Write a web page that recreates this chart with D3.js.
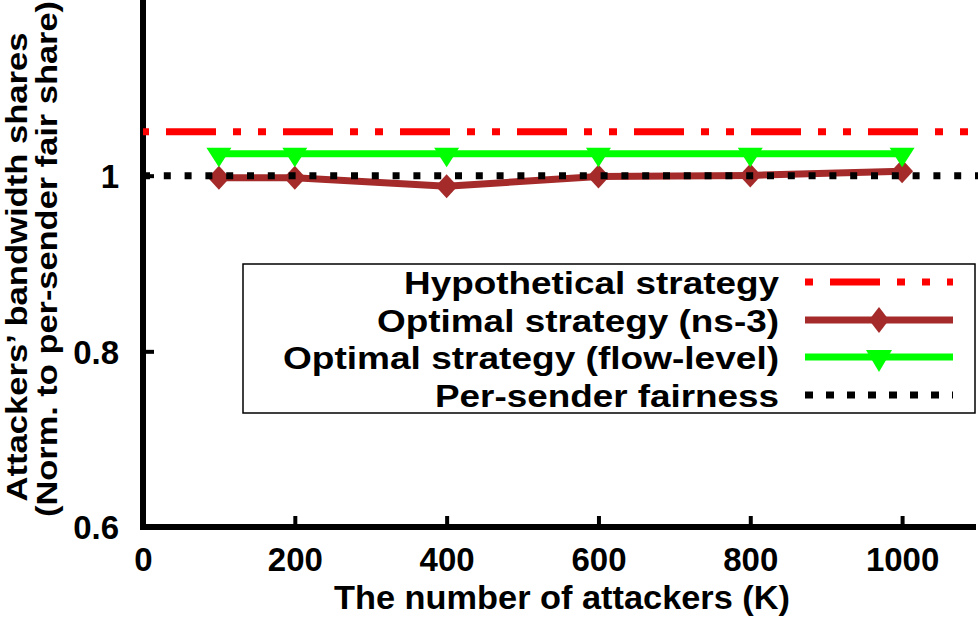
<!DOCTYPE html>
<html>
<head>
<meta charset="utf-8">
<script src="https://cdn.jsdelivr.net/npm/d3@7"></script>
<style>
  body { margin: 0; background: #fff; }
  text { font-family: "Liberation Sans", Arial, sans-serif; font-weight: bold; }
</style>
</head>
<body>
<svg id="chart" width="978" height="617"></svg>
<script>
// data
var attackers = [100, 200, 400, 600, 800, 1000];
var ns3Share = [0.9975, 0.9975, 0.988, 0.999, 1.0003, 1.005];
var flowShare = [1.025, 1.025, 1.025, 1.025, 1.025, 1.025];
var hypotheticalShare = 1.05;
var fairShare = 1.0;
var xTicks = [0, 200, 400, 600, 800, 1000];
var yTicks = [0.6, 0.8, 1];
var yTickLabels = ["0.6", "0.8", "1"];
var legendNames = ["Hypothetical strategy", "Optimal strategy (ns-3)", "Optimal strategy (flow-level)", "Per-sender fairness"];

var svg = d3.select("#chart");

var x = d3.scaleLinear().domain([0, 1100]).range([143, 978]);
var y = d3.scaleLinear().domain([0.6, 1.2]).range([527, 0]);

// axes (gnuplot style, ticks pointing inside)
var xAxis = d3.axisBottom(x).tickValues(xTicks).tickSizeInner(-11).tickSizeOuter(0)
              .tickPadding(21).tickFormat(d3.format("d"));
var yAxis = d3.axisLeft(y).tickValues(yTicks).tickSizeInner(-11).tickSizeOuter(0).tickPadding(24)
              .tickFormat(function(d, i) { return yTickLabels[i]; });

var gx = svg.append("g").attr("transform", "translate(0,527)").call(xAxis);
var gy = svg.append("g").attr("transform", "translate(143,0)").call(yAxis);

[gx, gy].forEach(function(g) {
  g.select(".domain").attr("stroke", "#000").attr("stroke-width", 6);
  g.selectAll(".tick line").attr("stroke", "#000").attr("stroke-width", 4);
  g.selectAll(".tick text").attr("font-size", 33).attr("fill", "#000");
});
gy.select(".domain").attr("d", "M0,530V0");
gx.select(".domain").attr("d", "M140,0H976");
gy.selectAll(".tick text").attr("dy", "0.36em");
gx.selectAll(".tick text").attr("dy", "0.71em");

// axis titles
svg.append("text").attr("x", 562).attr("y", 609).attr("text-anchor", "middle")
   .attr("font-size", 34).attr("textLength", 456).attr("lengthAdjust", "spacingAndGlyphs")
   .text("The number of attackers (K)");
svg.append("text").attr("transform", "translate(27,267) rotate(-90)").attr("text-anchor", "middle")
   .attr("font-size", 30).attr("textLength", 469).attr("lengthAdjust", "spacingAndGlyphs")
   .text("Attackers\u2019 bandwidth shares");
svg.append("text").attr("transform", "translate(57,259) rotate(-90)").attr("text-anchor", "middle")
   .attr("font-size", 30).attr("textLength", 516).attr("lengthAdjust", "spacingAndGlyphs")
   .text("(Norm. to per-sender fair share)");

var line = d3.line().x(function(d) { return x(d[0]); }).y(function(d) { return y(d[1]); });

// hypothetical strategy
svg.append("path").datum([[0, hypotheticalShare], [1100, hypotheticalShare]])
   .attr("d", line).attr("fill", "none").attr("stroke", "#ff0000").attr("stroke-width", 7)
   .attr("stroke-dasharray", "50,17,8,17,8,17").attr("stroke-dashoffset", 94);

// optimal strategy ns-3
var ns3 = attackers.map(function(a, i) { return [a, ns3Share[i]]; });
svg.append("path").datum(ns3).attr("d", line).attr("fill", "none")
   .attr("stroke", "#a52a2a").attr("stroke-width", 7);
var diamond = "M0,-12L11,0L0,12L-11,0Z";
svg.selectAll(".dia").data(ns3).enter().append("path")
   .attr("d", diamond).attr("fill", "#a52a2a")
   .attr("transform", function(d) { return "translate(" + x(d[0]) + "," + y(d[1]) + ")"; });

// optimal strategy flow-level
var flow = attackers.map(function(a, i) { return [a, flowShare[i]]; });
svg.append("path").datum(flow).attr("d", line).attr("fill", "none")
   .attr("stroke", "#00ff00").attr("stroke-width", 7);
var tri = "M-12.5,-6L12.5,-6L0,13.5Z";
svg.selectAll(".tri").data(flow).enter().append("path")
   .attr("d", tri).attr("fill", "#00ff00")
   .attr("transform", function(d) { return "translate(" + x(d[0]) + "," + y(d[1]) + ")"; });

// per-sender fairness
svg.append("path").datum([[0, fairShare], [1100, fairShare]])
   .attr("d", line).attr("fill", "none").attr("stroke", "#000").attr("stroke-width", 7)
   .attr("stroke-dasharray", "7,13.8").attr("stroke-dashoffset", 0);

// legend
var lg = svg.append("g");
lg.append("rect").attr("x", 243).attr("y", 264).attr("width", 732).attr("height", 149)
  .attr("fill", "#fff").attr("stroke", "#000").attr("stroke-width", 1.5);
var rowY = [282, 320, 357, 395];
var legendWidths = [375, 402, 496, 344];
legendNames.forEach(function(n, i) {
  lg.append("text").attr("x", 779).attr("y", rowY[i] + 12)
    .attr("text-anchor", "end").attr("font-size", 32)
    .attr("textLength", legendWidths[i]).attr("lengthAdjust", "spacingAndGlyphs").text(n);
});
lg.append("line").attr("x1", 805).attr("x2", 953).attr("y1", rowY[0]).attr("y2", rowY[0])
  .attr("stroke", "#ff0000").attr("stroke-width", 7)
  .attr("stroke-dasharray", "50,17,8,17,8,17").attr("stroke-dashoffset", 92);
lg.append("line").attr("x1", 805).attr("x2", 953).attr("y1", rowY[1]).attr("y2", rowY[1])
  .attr("stroke", "#a52a2a").attr("stroke-width", 7);
lg.append("path").attr("d", "M0,-13L10,0L0,13L-10,0Z").attr("fill", "#a52a2a")
  .attr("transform", "translate(879," + rowY[1] + ")");
lg.append("line").attr("x1", 805).attr("x2", 953).attr("y1", rowY[2]).attr("y2", rowY[2])
  .attr("stroke", "#00ff00").attr("stroke-width", 7);
lg.append("path").attr("d", "M-13,-7L13,-7L0,15Z").attr("fill", "#00ff00")
  .attr("transform", "translate(879," + rowY[2] + ")");
lg.append("line").attr("x1", 805).attr("x2", 953).attr("y1", rowY[3]).attr("y2", rowY[3])
  .attr("stroke", "#000").attr("stroke-width", 7).attr("stroke-dasharray", "8,13");
</script>
</body>
</html>
